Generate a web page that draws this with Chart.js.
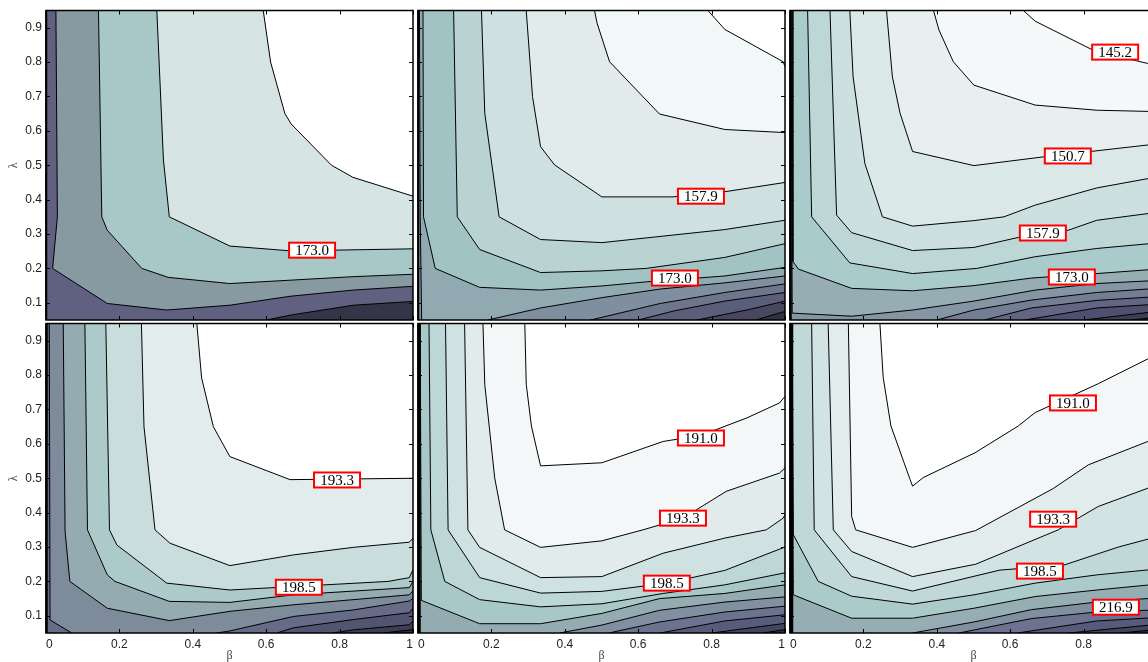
<!DOCTYPE html>
<html>
<head>
<meta charset="utf-8">
<script src="https://cdn.jsdelivr.net/npm/chart.js@4.4.1/dist/chart.umd.min.js"></script>
<style>
  html, body { margin: 0; padding: 0; background: #fff; }
  body { width: 1148px; height: 662px; overflow: hidden; position: relative; }
  canvas { position: absolute; }
</style>
</head>
<body>
<script>
// ===== AXES =====
const betaRange = [0, 1];
const lambdaRange = [0.05, 0.95];
const betaTicks = [0, 0.2, 0.4, 0.6, 0.8, 1];
const betaLabels = ['0', '0.2', '0.4', '0.6', '0.8', '1'];
const lambdaTicks = [0.1, 0.2, 0.3, 0.4, 0.5, 0.6, 0.7, 0.8, 0.9];
const lambdaLabels = ['0.1', '0.2', '0.3', '0.4', '0.5', '0.6', '0.7', '0.8', '0.9'];

// ===== CONTOURS: [beta, lambda], lightest level first =====
// a level is one line, or a list of lines when it is cut by the frame
const topLeftContours = [
    [[0.592,0.95],[0.612,0.80],[0.651,0.65],[0.668,0.62],[0.778,0.50],[0.836,0.465],[1,0.41]],
    [[0.302,0.95],[0.320,0.515],[0.336,0.35],[0.501,0.265],[0.667,0.251],[1,0.257]],
    [[0.143,0.95],[0.152,0.35],[0.167,0.311],[0.261,0.20],[0.333,0.174],[0.501,0.156],[0.837,0.176],[1,0.183]],
    [[0.027,0.95],[0.031,0.35],[0.018,0.20],[0.167,0.098],[0.329,0.079],[0.501,0.093],[0.665,0.119],[0.837,0.137],[1,0.148]],
    [[0.601,0.05],[0.665,0.064],[0.837,0.093],[1,0.104]]
];
const topMidContours = [
    [[0.790,0.95],[0.836,0.895],[0.995,0.801],[1,0.787]],
    [[0.481,0.95],[0.488,0.913],[0.522,0.801],[0.658,0.649],[0.836,0.604],[1,0.595]],
    [[0.295,0.95],[0.312,0.70],[0.334,0.554],[0.372,0.501],[0.501,0.408],[0.695,0.408],[0.836,0.423],[1,0.45]],
    [[0.173,0.95],[0.182,0.651],[0.221,0.35],[0.334,0.284],[0.501,0.275],[0.836,0.313],[1,0.34]],
    [[0.097,0.95],[0.107,0.35],[0.168,0.255],[0.334,0.188],[0.501,0.193],[0.622,0.2],[0.836,0.232],[1,0.272]],
    [[0.0136,0.95],[0.015,0.35],[0.047,0.20],[0.168,0.145],[0.334,0.137],[0.501,0.149],[0.622,0.161],[0.836,0.178],[1,0.203]],
    [[[0.004,0.95],[0.006,0.35],[0.01,0.05]],
     [[0.19,0.05],[0.334,0.085],[0.501,0.115],[0.66,0.14],[0.836,0.158],[1,0.178]]],
    [[0.47,0.05],[0.66,0.098],[0.836,0.13],[1,0.155]],
    [[0.60,0.05],[0.70,0.077],[0.836,0.105],[1,0.13]],
    [[0.76,0.05],[0.9,0.08],[1,0.105]],
    [[0.92,0.05],[1,0.075]]
];
const topRightContours = [
    [[0.636,0.95],[0.668,0.919],[0.831,0.832],[0.975,0.796],[1,0.79]],
    [[0.391,0.95],[0.406,0.893],[0.445,0.801],[0.501,0.733],[0.668,0.675],[0.836,0.66],[1,0.656]],
    [[0.263,0.95],[0.279,0.757],[0.300,0.651],[0.334,0.540],[0.501,0.499],[0.695,0.525],[1,0.562]],
    [[0.163,0.95],[0.172,0.757],[0.204,0.505],[0.252,0.35],[0.334,0.323],[0.501,0.339],[0.583,0.35],[0.668,0.384],[0.836,0.434],[1,0.466]],
    [[0.109,0.95],[0.127,0.355],[0.168,0.304],[0.334,0.252],[0.501,0.261],[0.622,0.29],[0.758,0.311],[0.836,0.34],[1,0.363]],
    [[0.048,0.95],[0.059,0.35],[0.163,0.216],[0.334,0.185],[0.509,0.2],[0.668,0.234],[0.836,0.258],[1,0.274]],
    [[0.006,0.95],[0.008,0.22],[0.023,0.198],[0.168,0.142],[0.334,0.135],[0.501,0.15],[0.658,0.172],[0.836,0.185],[1,0.198]],
    [[0.003,0.95],[0.006,0.07],[0.168,0.061],[0.334,0.079],[0.501,0.105],[0.668,0.137],[0.836,0.156],[1,0.165]],
    [[0.40,0.05],[0.501,0.079],[0.658,0.108],[0.836,0.13],[1,0.142]],
    [[0.53,0.05],[0.658,0.085],[0.836,0.107],[1,0.118]],
    [[0.64,0.05],[0.836,0.085],[1,0.096]],
    [[0.80,0.05],[1,0.075]],
    [[0.93,0.05],[1,0.058]]
];
const bottomLeftContours = [
    [[0.411,0.95],[0.424,0.792],[0.456,0.65],[0.501,0.563],[0.665,0.496],[1,0.50]],
    [[0.260,0.95],[0.267,0.65],[0.297,0.35],[0.338,0.311],[0.501,0.246],[0.674,0.277],[0.837,0.299],[0.99,0.314],[1,0.326]],
    [[0.163,0.95],[0.173,0.35],[0.193,0.306],[0.329,0.195],[0.501,0.175],[0.932,0.20],[0.99,0.211],[1,0.234]],
    [[0.106,0.95],[0.113,0.35],[0.167,0.219],[0.188,0.20],[0.336,0.142],[0.501,0.139],[0.674,0.161],[0.99,0.182],[1,0.20]],
    [[0.047,0.95],[0.052,0.345],[0.065,0.20],[0.167,0.122],[0.336,0.086],[0.501,0.113],[0.674,0.132],[0.99,0.161],[1,0.173]],
    [[[0.009,0.95],[0.011,0.088],[0.07,0.05]],
     [[0.465,0.05],[0.501,0.056],[0.674,0.098],[0.837,0.117],[0.99,0.143],[1,0.151]]],
    [[0.629,0.05],[0.674,0.065],[0.837,0.089],[0.99,0.109],[1,0.122]],
    [[0.78,0.05],[0.837,0.059],[0.99,0.074],[1,0.085]],
    [[0.92,0.05],[1,0.06]]
];
const bottomMidContours = [
    [[0.291,0.95],[0.295,0.773],[0.309,0.652],[0.334,0.536],[0.501,0.545],[0.668,0.607],[0.772,0.625],[0.895,0.675],[0.985,0.719],[1,0.738]],
    [[0.177,0.95],[0.182,0.772],[0.209,0.501],[0.236,0.35],[0.334,0.299],[0.501,0.318],[0.613,0.35],[0.722,0.384],[0.84,0.462],[0.985,0.515],[1,0.53]],
    [[0.127,0.95],[0.136,0.35],[0.168,0.299],[0.334,0.211],[0.501,0.214],[0.668,0.282],[0.836,0.326],[0.949,0.35],[0.995,0.384],[1,0.394]],
    [[0.075,0.95],[0.082,0.35],[0.168,0.211],[0.334,0.166],[0.501,0.171],[0.678,0.195],[0.836,0.232],[1,0.30]],
    [[0.03,0.95],[0.035,0.35],[0.073,0.2],[0.168,0.147],[0.334,0.126],[0.501,0.135],[0.668,0.165],[0.836,0.19],[1,0.225]],
    [[0.006,0.95],[0.009,0.145],[0.168,0.077],[0.334,0.077],[0.501,0.107],[0.658,0.15],[0.836,0.165],[1,0.19]],
    [[0.386,0.05],[0.501,0.073],[0.658,0.116],[0.836,0.14],[1,0.155]],
    [[0.52,0.05],[0.658,0.082],[0.836,0.111],[1,0.128]],
    [[0.66,0.05],[0.836,0.085],[1,0.103]],
    [[0.80,0.05],[1,0.078]],
    [[0.94,0.05],[1,0.06]]
];
const bottomRightContours = [
    [[0.245,0.95],[0.254,0.793],[0.275,0.652],[0.327,0.497],[0.334,0.477],[0.363,0.502],[0.504,0.574],[0.622,0.652],[0.668,0.691],[0.84,0.775],[0.975,0.847],[1,0.86]],
    [[0.159,0.95],[0.168,0.389],[0.179,0.35],[0.334,0.299],[0.506,0.348],[0.717,0.47],[0.813,0.539],[0.975,0.607],[1,0.615]],
    [[0.104,0.95],[0.118,0.35],[0.168,0.287],[0.334,0.214],[0.506,0.25],[0.731,0.35],[0.84,0.418],[0.975,0.471],[1,0.48]],
    [[0.059,0.95],[0.066,0.35],[0.168,0.214],[0.334,0.172],[0.572,0.233],[0.745,0.247],[0.895,0.30],[1,0.33]],
    [[0.006,0.95],[0.009,0.336],[0.077,0.2],[0.168,0.157],[0.334,0.134],[0.501,0.161],[0.668,0.195],[0.836,0.219],[1,0.236]],
    [[0.004,0.95],[0.009,0.161],[0.168,0.093],[0.334,0.093],[0.501,0.122],[0.668,0.156],[0.836,0.175],[1,0.192]],
    [[0.334,0.05],[0.501,0.082],[0.658,0.118],[0.836,0.14],[1,0.152]],
    [[0.46,0.05],[0.658,0.092],[0.836,0.111],[1,0.117]],
    [[0.62,0.05],[0.836,0.085],[1,0.095]],
    [[0.76,0.05],[1,0.075]],
    [[0.9,0.05],[1,0.06]]
];

// ===== CONTOUR LABELS =====
const topLeftLabels = [
    { beta: 0.725, lambda: 0.253, text: '173.0' }
];
const topMidLabels = [
    { beta: 0.771, lambda: 0.410, text: '157.9' },
    { beta: 0.700, lambda: 0.172, text: '173.0' }
];
const topRightLabels = [
    { beta: 0.886, lambda: 0.829, text: '145.2' },
    { beta: 0.757, lambda: 0.527, text: '150.7' },
    { beta: 0.689, lambda: 0.303, text: '157.9' },
    { beta: 0.768, lambda: 0.175, text: '173.0' }
];
const bottomLeftLabels = [
    { beta: 0.793, lambda: 0.495, text: '193.3' },
    { beta: 0.689, lambda: 0.183, text: '198.5' }
];
const bottomMidLabels = [
    { beta: 0.771, lambda: 0.617, text: '191.0' },
    { beta: 0.722, lambda: 0.384, text: '193.3' },
    { beta: 0.678, lambda: 0.195, text: '198.5' }
];
const bottomRightLabels = [
    { beta: 0.771, lambda: 0.719, text: '191.0' },
    { beta: 0.717, lambda: 0.381, text: '193.3' },
    { beta: 0.681, lambda: 0.230, text: '198.5' },
    { beta: 0.888, lambda: 0.125, text: '216.9' }
];

// ===== BAND COLOURS (bone), lightest first, last one is the background =====
const topLeftColors = ['#ffffff','#d6e4e4','#a8c8c8','#879aa2','#606180','#35354a'];
const topMidColors = ['#ffffff','#f2f7f7','#e1ebeb','#cfe0e0','#b9d2d2','#a2c3c3','#91a9b1','#808fa0','#6e768e','#5b5e7b','#47475f','#30303f'];
const topRightColors = ['#ffffff','#f4f8f8','#e7efef','#dae8e8','#cde0e0','#bdd7d7','#aacbcb','#96adb4','#8595a4','#737d93','#626683','#4f5070','#3c3c52','#2a2a38'];
const bottomLeftColors = ['#ffffff','#e3ecec','#c9dddd','#adcaca','#93abb1','#7d8b9b','#666c88','#525470','#3e3e54','#2a2a36'];
const bottomMidColors = ['#ffffff','#f3f7f7','#e1ebeb','#d0e1e1','#bdd6d6','#a8c7c7','#93abb1','#8090a0','#6c7390','#595b7b','#444560','#2e2e3c'];
const bottomRightColors = ['#ffffff','#f3f7f7','#e3ecec','#d2e3e3','#c0d8d8','#abcaca','#96adb3','#8190a0','#6c7290','#575a7a','#42435c','#2c2c3a'];

// ===== LAYOUT =====
const COL_X = [46, 418, 790];
const ROW_Y = [10.5, 323.5];
const PANEL_W = 367;
const PANEL_H = 309.5;

const panels = [
    { contours: topLeftContours, labels: topLeftLabels, colors: topLeftColors, row: 0, col: 0, edge: 2 },
    { contours: topMidContours, labels: topMidLabels, colors: topMidColors, row: 0, col: 1, edge: 2 },
    { contours: topRightContours, labels: topRightLabels, colors: topRightColors, row: 0, col: 2, edge: 2.5 },
    { contours: bottomLeftContours, labels: bottomLeftLabels, colors: bottomLeftColors, row: 1, col: 0, edge: 2.5 },
    { contours: bottomMidContours, labels: bottomMidLabels, colors: bottomMidColors, row: 1, col: 1, edge: 3.5 },
    { contours: bottomRightContours, labels: bottomRightLabels, colors: bottomRightColors, row: 1, col: 2, edge: 4 }
];

// ===== REGIONS =====
const [B0, B1] = betaRange;
const [L0, L1] = lambdaRange;
const CORNERS = [[B0, L0], [B1, L0], [B1, L1], [B0, L1]];

// position along the frame, counter-clockwise from bottom-left (0..4)
function perim([x, y]) {
    const e = 1e-6;
    if (Math.abs(y - L0) < e && x < B1 - e) return (x - B0) / (B1 - B0);
    if (Math.abs(x - B1) < e && y < L1 - e) return 1 + (y - L0) / (L1 - L0);
    if (Math.abs(y - L1) < e && x > B0 + e) return 2 + (B1 - x) / (B1 - B0);
    return 3 + (L1 - y) / (L1 - L0);
}

function walk(a, b) {
    const ta = perim(a);
    let tb = perim(b);
    if (tb <= ta) tb += 4;
    const out = [];
    for (let k = Math.floor(ta) + 1; k < tb; k++) out.push(CORNERS[k % 4]);
    return out;
}

function toPieces(level) {
    return Array.isArray(level[0][0]) ? level : [level];
}

// lighter side of a level: its lines joined along the frame
function region(level) {
    const pieces = toPieces(level);
    let pts = [];
    pieces.forEach((p, i) => {
        const next = pieces[(i + 1) % pieces.length];
        pts = pts.concat(p, walk(p[p.length - 1], next[0]));
    });
    return pts.map(([x, y]) => ({ x, y }));
}

// ===== CHARTS =====
panels.forEach(p => {
    const x0 = COL_X[p.col], y0 = ROW_Y[p.row];
    const showX = p.row === 1, showY = p.col === 0;
    const left = showY ? 0 : x0 - 4;
    const top = p.row === 0 ? 6 : 319;
    const padBottom = showX ? 29 : 4;
    const canvas = document.createElement('canvas');
    canvas.width = (x0 - left) + PANEL_W + 4;
    canvas.height = Math.round((y0 - top) + PANEL_H + padBottom);
    canvas.style.left = left + 'px';
    canvas.style.top = top + 'px';
    document.body.appendChild(canvas);

    const datasets = [];
    p.contours.forEach((level, i) => {
        datasets.push({
            data: region(level),
            showLine: true,
            fill: 'shape',
            backgroundColor: p.colors[i],
            borderColor: 'rgba(0,0,0,0)',
            borderWidth: 0,
            pointRadius: 0,
            order: 100 + i
        });
        toPieces(level).forEach(piece => datasets.push({
            data: piece.map(([x, y]) => ({ x, y })),
            showLine: true,
            fill: false,
            borderColor: '#000',
            borderWidth: 1,
            pointRadius: 0,
            order: 0
        }));
    });

    const panelPlugin = {
        id: 'panel',
        beforeDatasetsDraw(chart) {
            const { ctx, chartArea: a } = chart;
            ctx.save();
            ctx.fillStyle = p.colors[p.colors.length - 1];
            ctx.fillRect(a.left, a.top, a.width, a.height);
            ctx.restore();
        },
        afterDatasetsDraw(chart) {
            const { ctx, scales: { x, y } } = chart;
            ctx.save();
            ctx.font = '15px "Liberation Serif"';
            ctx.textAlign = 'center';
            ctx.textBaseline = 'middle';
            p.labels.forEach(l => {
                const px = x.getPixelForValue(l.beta);
                const py = y.getPixelForValue(l.lambda);
                ctx.fillStyle = '#fff';
                ctx.fillRect(px - 23, py - 7.5, 46, 15);
                ctx.strokeStyle = '#ff0000';
                ctx.lineWidth = 2;
                ctx.strokeRect(px - 23, py - 7.5, 46, 15);
                ctx.fillStyle = '#000';
                ctx.fillText(l.text, px, py + 1);
            });
            ctx.restore();
        },
        afterDraw(chart) {
            const { ctx, chartArea: a, scales: { x, y } } = chart;
            ctx.save();
            ctx.strokeStyle = '#000';
            ctx.lineWidth = 1;
            ctx.beginPath();
            betaTicks.forEach(v => {
                const px = Math.round(x.getPixelForValue(v)) + 0.5;
                ctx.moveTo(px, a.bottom); ctx.lineTo(px, a.bottom - 4);
                ctx.moveTo(px, a.top); ctx.lineTo(px, a.top + 4);
            });
            lambdaTicks.forEach(v => {
                const py = Math.round(y.getPixelForValue(v)) + 0.5;
                ctx.moveTo(a.left, py); ctx.lineTo(a.left + 4, py);
                ctx.moveTo(a.right, py); ctx.lineTo(a.right - 4, py);
            });
            ctx.stroke();
            ctx.lineWidth = 1.5;
            ctx.strokeRect(a.left, a.top, a.width, a.height);
            ctx.fillStyle = '#000';
            ctx.fillRect(a.left - 0.75, a.top, p.edge, a.height);
            ctx.restore();
        }
    };

    new Chart(canvas, {
        type: 'scatter',
        data: { datasets },
        options: {
            responsive: false,
            animation: false,
            events: [],
            layout: {
                padding: { left: showY ? 0 : 4, right: 4, top: y0 - top, bottom: showX ? 0 : 4 }
            },
            plugins: { legend: { display: false }, tooltip: { enabled: false } },
            elements: { line: { tension: 0 }, point: { radius: 0, hoverRadius: 0 } },
            scales: {
                x: {
                    type: 'linear',
                    min: B0, max: B1,
                    display: showX,
                    afterBuildTicks: s => { s.ticks = betaTicks.map(v => ({ value: v })); },
                    afterFit: s => {
                        if (showX) s.height = padBottom;
                        s.paddingLeft = 0;
                        s.paddingRight = 0;
                    },
                    grid: { display: false, drawTicks: false },
                    border: { display: false },
                    ticks: {
                        padding: 4, maxRotation: 0, autoSkip: false, align: 'inner',
                        color: '#222',
                        font: { family: 'Liberation Sans', size: 12 },
                        callback: (v, i) => betaLabels[i]
                    },
                    title: {
                        display: true, text: 'β', color: '#444',
                        font: { family: 'Liberation Serif', size: 12, lineHeight: 1 },
                        padding: { top: 0, bottom: 0 }
                    }
                },
                y: {
                    type: 'linear',
                    min: L0, max: L1,
                    display: showY,
                    afterBuildTicks: s => { s.ticks = lambdaTicks.map(v => ({ value: v })); },
                    afterFit: s => {
                        if (showY) s.width = 46;
                        s.paddingTop = 0;
                        s.paddingBottom = 0;
                    },
                    grid: { display: false, drawTicks: false },
                    border: { display: false },
                    ticks: {
                        padding: 4, autoSkip: false,
                        color: '#222',
                        font: { family: 'Liberation Sans', size: 12 },
                        callback: (v, i) => lambdaLabels[i]
                    },
                    title: {
                        display: true, text: 'λ', color: '#444',
                        font: { family: 'Liberation Serif', size: 12, lineHeight: 1 },
                        padding: { top: 8, bottom: 0 }
                    }
                }
            }
        },
        plugins: [panelPlugin]
    });
});
</script>
</body>
</html>
